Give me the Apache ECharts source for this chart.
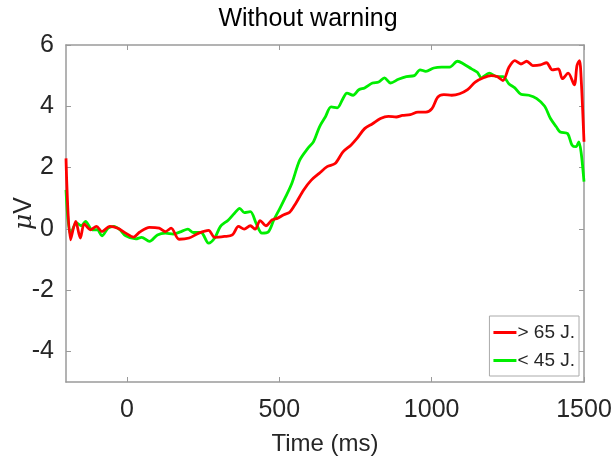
<!DOCTYPE html>
<html>
<head>
<meta charset="utf-8">
<script src="https://cdn.jsdelivr.net/npm/echarts@6/dist/echarts.min.js"></script>
<style>html,body{margin:0;padding:0;background:#fff}#c{width:616px;height:462px}</style>
</head>
<body>
<div id="c"></div>
<script>
var xTicks = [0, 500, 1000, 1500];
var yTicks = [-4, -2, 0, 2, 4, 6];

var redT = [-200,-185,-168,-153,-140,-120,-100,-82,-56,-30,-4,22,41,74,106,126,145,171,204,236,268,288,320,346,366,385,405,421,437,456,476,495,515,534,554,580,605,631,657,683,709,735,755,780,806,832,858,884,904,930,955,981,1001,1020,1040,1066,1092,1118,1143,1170,1195,1215,1234,1254,1273,1293,1312,1332,1357,1377,1396,1416,1429,1448,1468,1477,1485,1491,1500];
var redV = [2.3,-0.36,0.24,-0.3,0.16,-0.03,0.08,-0.09,0.08,0.02,-0.14,-0.27,-0.11,0.05,0.02,-0.09,0.02,-0.34,-0.3,-0.14,-0.05,-0.28,-0.25,-0.2,0.08,-0.01,0.1,-0.01,0.27,0.1,0.29,0.35,0.46,0.54,0.83,1.27,1.59,1.81,2.03,2.13,2.51,2.73,2.95,3.27,3.43,3.6,3.67,3.65,3.7,3.73,3.81,3.81,3.92,4.3,4.38,4.36,4.41,4.54,4.79,4.93,5.0,4.97,4.84,5.28,5.49,5.38,5.47,5.33,5.35,5.42,5.19,5.22,4.9,5.08,4.7,5.33,5.49,4.84,2.84];

var greenT = [-200,-185,-166,-150,-136,-114,-97,-82,-62,-43,-23,-4,29,48,74,100,126,152,178,200,217,243,268,288,307,333,353,370,385,405,424,443,463,482,502,521,541,567,593,612,632,651,670,690,709,722,742,761,780,806,826,845,865,891,917,943,962,981,1007,1033,1059,1085,1105,1131,1150,1163,1189,1215,1234,1254,1273,1293,1319,1345,1371,1390,1409,1422,1446,1461,1474,1483,1491,1500];
var greenV = [1.27,-0.2,0.2,0.1,0.24,-0.03,-0.03,-0.23,0.02,0.08,-0.03,-0.23,-0.33,-0.28,-0.41,-0.2,-0.14,-0.17,-0.09,-0.01,-0.12,-0.12,-0.47,-0.3,0.08,0.29,0.51,0.67,0.53,0.56,0.18,-0.14,-0.11,0.29,0.67,1.05,1.48,2.24,2.62,2.84,3.33,3.65,3.98,3.95,4.25,4.43,4.36,4.54,4.6,4.76,4.79,4.93,4.76,4.88,4.97,5.0,5.19,5.14,5.25,5.28,5.28,5.47,5.38,5.22,5.11,4.93,5.08,4.97,4.97,4.73,4.6,4.39,4.36,4.25,4.0,3.6,3.33,3.16,3.11,2.73,2.68,2.84,2.46,1.54];

function pairs(t, v) { return t.map(function (x, i) { return [x, v[i]]; }); }

var axisCol = '#9a9a9a';
var txtCol = '#262626';
var font = 'Liberation Sans, Arial, sans-serif';
function plain(v) { return String(v); }

var chart = echarts.init(document.getElementById('c'), null, {renderer: 'canvas'});
chart.setOption({
  animation: false,
  backgroundColor: '#fff',
  title: {
    text: 'Without warning', left: 'center', top: 2,
    textStyle: {fontFamily: font, fontSize: 25, fontWeight: 'normal', color: '#000'}
  },
  grid: {left: 66, right: 32, top: 45, bottom: 80, containLabel: false, outerBoundsMode: 'none'},
  legend: {
    orient: 'vertical', right: 37, bottom: 86,
    data: ['> 65 J.', '< 45 J.'],
    icon: 'rect', itemWidth: 23, itemHeight: 3, itemGap: 9,
    borderColor: '#aaa', borderWidth: 1, padding: [7, 4, 6, 4],
    backgroundColor: '#fff',
    textStyle: {fontFamily: font, fontSize: 19, color: txtCol, padding: [0, 0, 0, -4]}
  },
  xAxis: [{
    type: 'value', min: -200, max: 1500, position: 'bottom',
    name: 'Time (ms)', nameLocation: 'middle', nameGap: 50, nameMoveOverlap: false,
    nameTextStyle: {fontFamily: font, fontSize: 24, color: txtCol},
    axisLine: {show: true, onZero: false, lineStyle: {color: axisCol, width: 1.5}},
    axisTick: {show: true, inside: true, length: 5, customValues: xTicks, lineStyle: {color: axisCol}},
    axisLabel: {customValues: xTicks, formatter: plain, margin: 16, fontFamily: font, fontSize: 25, color: txtCol},
    splitLine: {show: false}
  }, {
    type: 'value', min: -200, max: 1500, position: 'top',
    axisLine: {show: true, onZero: false, lineStyle: {color: axisCol, width: 1.5}},
    axisTick: {show: true, inside: true, length: 5, customValues: xTicks, lineStyle: {color: axisCol}},
    axisLabel: {show: false},
    splitLine: {show: false}
  }],
  yAxis: [{
    type: 'value', min: -5, max: 6, position: 'left',
    name: '{i|μ}V', nameLocation: 'middle', nameGap: 29, nameRotate: 90, nameMoveOverlap: false,
    nameTextStyle: {fontFamily: font, fontSize: 25, color: txtCol,
      rich: {i: {fontFamily: 'DejaVu Serif, serif', fontStyle: 'italic', fontSize: 25, color: txtCol}}},
    axisLine: {show: true, onZero: false, lineStyle: {color: axisCol, width: 1.5}},
    axisTick: {show: true, inside: true, length: 5, customValues: yTicks, lineStyle: {color: axisCol}},
    axisLabel: {customValues: yTicks, formatter: plain, margin: 12, fontFamily: font, fontSize: 25, color: txtCol},
    splitLine: {show: false}
  }, {
    type: 'value', min: -5, max: 6, position: 'right',
    axisLine: {show: true, onZero: false, lineStyle: {color: axisCol, width: 1.5}},
    axisTick: {show: true, inside: true, length: 5, customValues: yTicks, lineStyle: {color: axisCol}},
    axisLabel: {show: false},
    splitLine: {show: false}
  }],
  series: [{
    name: '> 65 J.', type: 'line', data: pairs(redT, redV),
    showSymbol: false, smooth: 0.3, color: '#ff0000',
    lineStyle: {width: 2.8, color: '#ff0000'}, z: 3
  }, {
    name: '< 45 J.', type: 'line', data: pairs(greenT, greenV),
    showSymbol: false, smooth: 0.3, color: '#00ee00',
    lineStyle: {width: 2.8, color: '#00ee00'}, z: 2
  }]
});
</script>
</body>
</html>
